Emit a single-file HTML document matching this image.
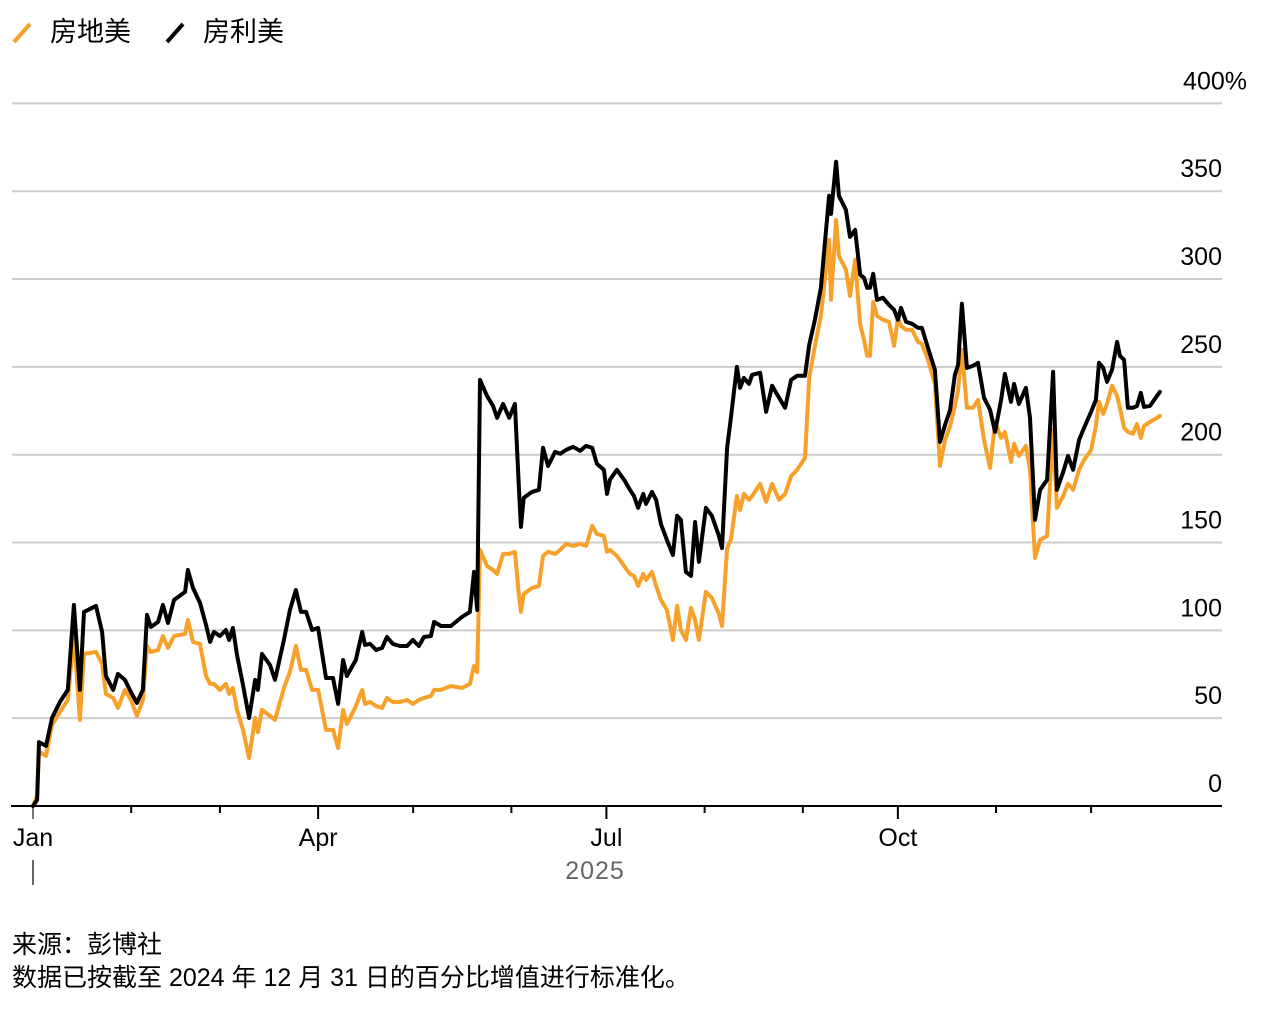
<!DOCTYPE html>
<html><head><meta charset="utf-8"><style>
body{margin:0;background:#fff;}
svg text{font-family:"Liberation Sans","Noto Sans CJK SC",sans-serif;}
</style></head><body>
<svg id="chart" width="1268" height="1006" xmlns="http://www.w3.org/2000/svg">
<g>
 <line x1="14" y1="42" x2="30" y2="24" stroke="#f7a12b" stroke-width="4"/>
 <text x="50" y="41" font-size="27" fill="#000">房地美</text>
 <line x1="167" y1="42" x2="183" y2="24" stroke="#000" stroke-width="4"/>
 <text x="203" y="41" font-size="27" fill="#000">房利美</text>
</g>
<g id="grid"></g>
<g id="xaxis"></g>
<g id="series"></g>
<text x="595" y="879" font-size="25" fill="#666" text-anchor="middle" letter-spacing="1">2025</text>
<line x1="33" y1="860" x2="33" y2="885" stroke="#666" stroke-width="2"/>
<text x="12" y="953" font-size="25" fill="#000">来源：彭博社</text>
<text x="12" y="986" font-size="25" fill="#000">数据已按截至 2024 年 12 月 31 日的百分比增值进行标准化。</text>
</svg>
<script>
const days=[0,1.3,1.9,4.1,6.0,8.5,11.0,12.9,14.8,16.1,19.9,21.8,23.0,25.3,26.8,29.0,30.9,32.8,34.7,36.0,37.2,39.5,41.0,42.6,44.5,48.0,48.9,50.5,52.7,54.6,55.9,57.1,59.0,60.9,61.9,63.1,64.4,66.3,68.2,70.1,71.0,72.3,74.8,76.4,79.2,81.1,83.0,84.6,86.2,88.1,90.0,92.5,94.7,96.3,97.9,99.1,101.9,103.9,104.8,106.4,108.3,110.2,111.7,113.6,115.8,118.1,119.9,121.8,123.4,125.6,126.6,128.8,131.9,135.4,137.9,139.2,140.2,141.1,143.3,145.2,146.5,148.4,150.3,152.1,153.4,154.0,154.9,157.5,159.7,161.0,162.6,164.8,166.4,168.2,170.5,172.7,174.6,176.5,178.0,180.2,181.2,182.1,184.3,186.6,188.4,189.7,191.0,192.6,193.5,195.4,196.7,198.2,200.1,202.0,203.3,204.5,206.1,207.7,209.0,210.2,212.4,214.3,216.5,217.5,219.1,220.3,222.2,223.2,224.4,226.0,227.0,229.5,231.4,233.3,235.5,237.4,239.3,241.2,243.7,245.0,246.8,248.7,251.3,251.9,253.5,254.4,256.6,257.9,259.5,261.1,262.3,263.3,264.2,265.2,266.4,268.3,270.2,271.8,273.0,274.0,275.6,277.5,279.4,280.6,282.5,284.7,286.3,287.9,289.5,291.0,292.0,293.2,294.8,296.7,298.3,300.2,302.1,303.7,305.6,306.8,308.7,309.7,311.2,313.4,314.7,316.3,317.9,320.1,322.0,323.2,325.2,326.7,328.3,330.2,331.8,334.0,335.5,336.5,337.8,339.0,340.6,342.2,343.1,344.4,345.6,347.2,348.5,349.7,350.7,352.6,354.8,355.7];
const freddie=[0,3.4,36.4,34.2,50.1,59.2,66.1,114.5,66.1,110.5,113.9,99.1,74.0,66.1,75.2,71.8,64.9,58.7,66.1,108.8,101.9,104.8,114.5,104.2,117.3,121.9,134.4,124.1,115.6,103.1,93.4,99.1,96.8,100.2,94.5,101.4,86.0,68.9,50.1,71.8,66.1,86.6,80.3,71.8,94.5,111.6,123.0,110.5,110.5,100.2,101.4,72.9,72.9,58.1,83.1,74.0,83.1,99.1,91.7,92.3,88.8,90.0,96.2,92.3,91.1,91.1,94.5,91.1,96.2,96.8,104.8,102.5,102.5,107.6,110.5,133.3,111.6,242.6,233.5,227.8,221.0,228.9,221.0,228.9,180.0,158.9,175.4,178.8,180.0,203.9,193.6,201.6,200.5,202.7,204.5,202.2,205.0,203.9,194.8,191.4,177.7,185.7,191.4,185.7,180.0,176.5,169.7,177.7,172.0,178.8,174.3,160.6,151.5,142.9,165.2,162.9,133.3,131.0,161.7,139.0,169.7,165.2,153.8,146.9,203.9,221.0,250.0,238.1,243.7,240.3,245.5,246.6,224.4,239.2,232.4,226.7,242.6,244.9,244.9,262.5,276.8,295.0,347.4,337.1,366.8,347.4,339.4,324.0,328.0,302.4,300.7,295.0,295.0,303.0,288.2,289.3,285.3,282.5,276.8,283.6,275.6,274.5,272.2,272.2,260.8,248.3,207.3,217.0,225.5,245.5,251.1,285.9,249.4,250.6,252.3,232.4,225.5,213.0,231.2,246.0,230.1,240.3,228.9,238.1,221.0,162.9,180.0,185.7,247.2,180.0,190.2,199.3,191.4,208.4,215.3,224.4,231.2,252.3,249.4,241.5,248.3,264.2,256.3,254.0,226.7,226.7,227.8,235.2,227.2,227.8,233.5,235.8];
const fannie=[0,5.7,30.8,28.5,46.1,53.5,60.4,96.8,49.0,86.6,87.7,80.9,63.8,61.5,55.8,66.1,60.4,51.3,60.4,91.1,87.7,88.8,96.8,90.0,96.8,98.0,105.9,93.4,92.3,74.0,69.5,69.5,66.1,69.5,63.8,67.2,54.7,43.3,27.3,50.1,42.1,54.7,51.3,49.0,67.2,76.3,91.1,77.5,77.5,66.1,66.1,43.3,43.3,33.0,54.7,46.7,56.9,66.1,58.1,59.2,56.9,55.8,61.5,59.2,59.2,60.4,58.1,60.4,61.5,62.6,66.1,66.1,68.3,67.2,69.5,79.7,76.3,145.8,136.7,134.4,132.1,143.5,143.5,144.7,119.6,110.5,120.7,124.1,125.3,142.4,144.7,143.5,145.8,149.2,148.1,149.2,148.1,159.5,154.9,153.8,144.7,145.8,142.4,136.7,132.1,131.0,125.3,132.1,128.7,133.3,125.3,117.3,111.6,94.5,113.9,100.2,94.5,112.8,105.9,94.5,121.9,118.5,109.3,102.5,146.9,151.5,176.5,168.6,177.7,174.3,176.5,183.4,173.1,183.4,174.3,177.7,187.9,191.4,198.2,243.7,262.0,279.1,322.3,288.2,333.7,313.2,305.3,290.4,310.9,273.9,265.4,256.3,256.3,287.0,279.1,276.8,275.6,262.0,277.9,273.4,271.1,271.1,264.2,263.1,254.0,240.3,193.6,208.4,216.4,227.8,236.9,259.7,226.7,226.7,231.2,208.4,192.5,218.7,209.6,213.0,195.9,206.2,199.3,205.0,191.4,141.2,151.5,153.8,214.1,169.7,176.5,183.4,180.0,191.4,197.0,202.7,216.4,230.1,223.2,228.9,239.2,233.5,226.7,215.3,213.0,211.9,217.5,209.6,216.4,218.7,221.0,222.1];
const yTicks=[0,50,100,150,200,250,300,350,400];
const yTickLabels=["0","50","100","150","200","250","300","350","400%"];
const monthStarts=[0,31,59,90,120,151,181,212,243,273,304,334];
const monthLabels=["Jan","","","Apr","","","Jul","","","Oct","",""];

const NS="http://www.w3.org/2000/svg";
const X0=33,PXD=3.168,Y0=806,PXV=1.7565;
const xs=d=>X0+d*PXD, ys=v=>Y0-v*PXV;
function mk(tag,attrs,parent){const e=document.createElementNS(NS,tag);for(const k in attrs)e.setAttribute(k,attrs[k]);parent.appendChild(e);return e;}
const grid=document.getElementById('grid'),xa=document.getElementById('xaxis'),ser=document.getElementById('series');
yTicks.forEach((v,i)=>{
  if(v>0){const l=mk('line',{x1:12,x2:1222,y1:ys(v),y2:ys(v),stroke:'#cccccc','stroke-width':2},grid);
  
  }
  const t=mk('text',{x:i==yTicks.length-1?1247:1222,y:ys(v)-14,'font-size':25,'text-anchor':'end',fill:'#000'},grid);
  t.textContent=yTickLabels[i];
  
  
});
const base=mk('line',{x1:11,x2:1222,y1:Y0,y2:Y0,stroke:'#000','stroke-width':2},xa);


monthStarts.forEach((d,i)=>{
  const q=monthLabels[i]!=="";
  const tk=mk('line',{x1:xs(d),x2:xs(d),y1:Y0,y2:q?819:813,stroke:i==0?'#777':'#000','stroke-width':2},xa);
  
  
  if(q){const t=mk('text',{x:xs(d),y:846,'font-size':25,'text-anchor':'middle',fill:'#000'},xa);
  t.textContent=monthLabels[i];
  
  }
});
function line(vals,color,name){
  const n=Math.min(days.length,vals.length);let d='';
  for(let i=0;i<n;i++)d+=(i?'L':'M')+xs(days[i]).toFixed(1)+' '+ys(vals[i]).toFixed(1);
  const p=mk('path',{d:d,fill:'none',stroke:color,'stroke-width':4,'stroke-linejoin':'round','stroke-linecap':'round'},ser);
  
  
}
line(fannie,'#f7a12b','series-line-fannie');
line(freddie,'#000000','series-line-freddie');
</script>
</body></html>
